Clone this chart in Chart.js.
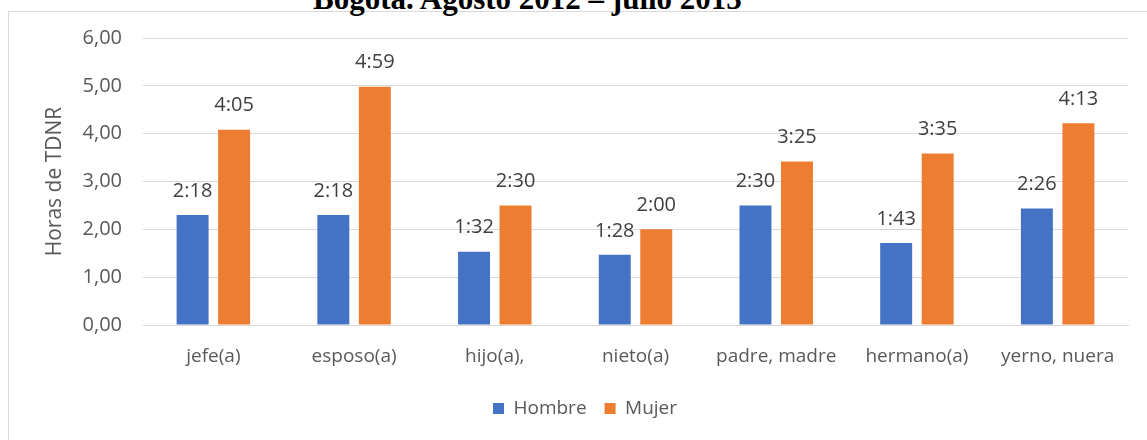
<!DOCTYPE html>
<html lang="es">
<head>
<meta charset="utf-8">
<title>Horas de TDNR por parentesco</title>
<script src="https://cdn.jsdelivr.net/npm/chart.js@4.4.1/dist/chart.umd.min.js"></script>
<style>
  html, body { margin: 0; padding: 0; background: #fff; overflow: hidden; }
  #wrap { position: relative; width: 1147px; height: 440px; overflow: hidden; }
  #frame {
    position: absolute; left: 8px; top: 11px; width: 1200px; height: 500px;
    border: 1px solid #d9d9d9; box-sizing: border-box;
  }
  #titulo {
    position: absolute; left: 313px; top: -19px; line-height: 31px;
    font: bold 31px "Liberation Serif", "DejaVu Serif", serif; color: #000;
    white-space: nowrap;
  }
  #grafico { position: absolute; left: 0; top: 0; }
</style>
</head>
<body>
<div id="wrap">
  <div id="frame"></div>
  <div id="titulo">Bogotá. Agosto 2012 – julio 2013</div>
  <canvas id="grafico" width="1147" height="440"></canvas>
</div>
<script>
  const categorias = [
    "jefe(a)",
    "esposo(a)",
    "hijo(a),",
    "nieto(a)",
    "padre, madre",
    "hermano(a)",
    "yerno, nuera",
  ];

  // tiempo promedio en horas:minutos
  const hombre = ["2:18", "2:18", "1:32", "1:28", "2:30", "1:43", "2:26"];
  const mujer = ["4:05", "4:59", "2:30", "2:00", "3:25", "3:35", "4:13"];

  const yTicks = [0, 1, 2, 3, 4, 5, 6];

  function aHoras(hm) {
    const p = hm.split(":");
    return Number(p[0]) + Number(p[1]) / 60;
  }

  const gris = "#595959";
  const fuente = "'Open Sans', 'Noto Sans', sans-serif";

  // etiquetas h:mm encima de cada barra
  const etiquetas = {
    id: "etiquetas",
    afterDatasetsDraw(chart) {
      const c = chart.ctx;
      c.save();
      c.font = "20px " + fuente;
      c.fillStyle = "#404040";
      c.textAlign = "center";
      c.textBaseline = "middle";
      chart.data.datasets.forEach((ds, i) => {
        chart.getDatasetMeta(i).data.forEach((bar, j) => {
          c.fillText(ds.textos[j], bar.x, bar.y - 24);
        });
      });
      c.restore();
    },
  };

  new Chart(document.getElementById("grafico"), {
    type: "bar",
    data: {
      labels: categorias,
      datasets: [
        {
          label: "Hombre",
          data: hombre.map(aHoras),
          textos: hombre,
          backgroundColor: "#4472c4",
        },
        {
          label: "Mujer",
          data: mujer.map(aHoras),
          textos: mujer,
          backgroundColor: "#ed7d31",
        },
      ],
    },
    plugins: [etiquetas],
    options: {
      responsive: false,
      animation: false,
      categoryPercentage: 0.59,
      barPercentage: 0.77,
      layout: {
        padding: { top: 38, right: 19, bottom: 12, left: 42 },
      },
      plugins: {
        legend: {
          position: "bottom",
          labels: {
            boxWidth: 11,
            boxHeight: 11,
            padding: 18,
            color: gris,
            font: { family: fuente, size: 19 },
          },
        },
        tooltip: { enabled: false },
      },
      scales: {
        x: {
          grid: { display: false },
          border: { color: "#d9d9d9" },
          ticks: {
            color: gris,
            padding: 12,
            maxRotation: 0,
            autoSkip: false,
            font: { family: fuente, size: 19 },
          },
          afterFit(scale) {
            scale.height = 56;
          },
        },
        y: {
          min: 0,
          max: 6,
          afterBuildTicks(scale) {
            scale.ticks = yTicks.map((v) => ({ value: v }));
          },
          afterFit(scale) {
            scale.width = 101;
          },
          grid: { color: "#d9d9d9", drawTicks: false },
          border: { display: false },
          ticks: {
            color: gris,
            padding: 21,
            font: { family: fuente, size: 20 },
            callback: (v) => v.toFixed(2).replace(".", ","),
          },
          title: {
            display: true,
            text: "Horas de TDNR",
            color: gris,
            padding: { top: 0, bottom: 0 },
            font: { family: fuente, size: 21 },
          },
        },
      },
    },
  });
</script>
</body>
</html>
